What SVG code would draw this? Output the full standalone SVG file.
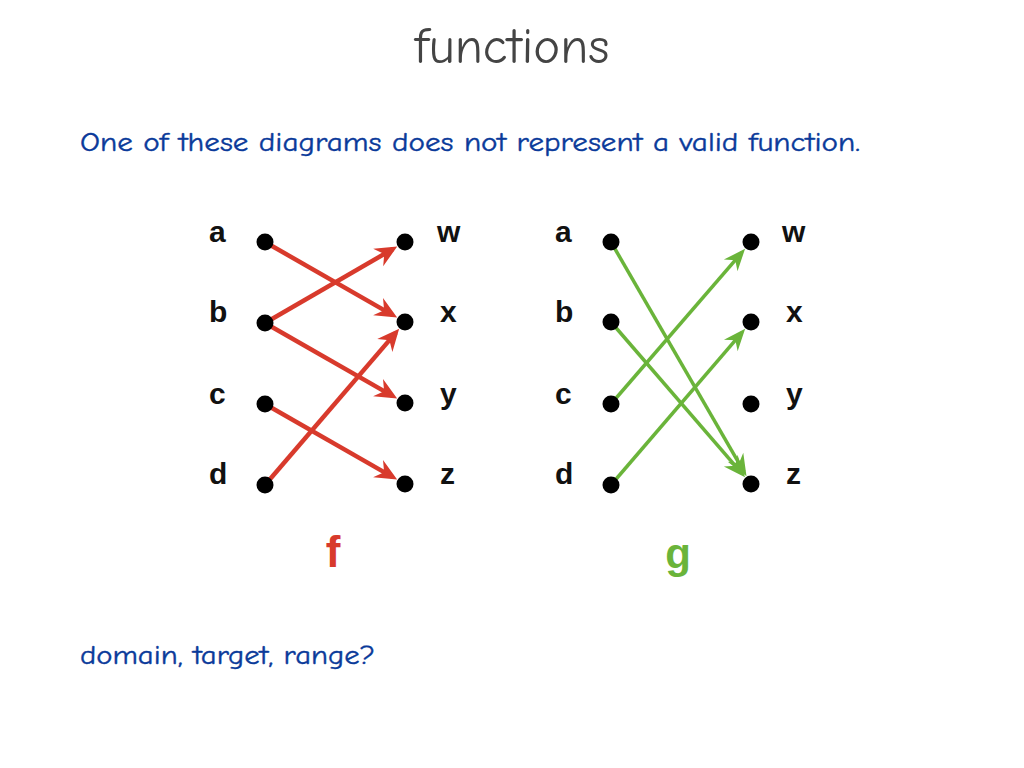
<svg xmlns="http://www.w3.org/2000/svg" width="1024" height="768" viewBox="0 0 1024 768">
<style>
.title{font-family:"Comic Sans MS","Comic Neue","Open Sans","Liberation Sans",sans-serif;font-size:50px;fill:#444444}
.body{font-family:"Comic Sans MS","Comic Neue","Open Sans","Liberation Sans",sans-serif;font-size:27px;fill:#0a3a9a;stroke:#0a3a9a;stroke-width:0.4}
.lbl{font-family:"Liberation Sans",Arial,sans-serif;font-weight:bold;font-size:30px;fill:#111111}
.dot{fill:#000000}
.red{stroke:#d83a2c;stroke-width:4.5;fill:none}
.green{stroke:#6ab43a;stroke-width:3.5;fill:none}
</style>
<defs>
<marker id="ahr" markerUnits="userSpaceOnUse" orient="auto" markerWidth="30" markerHeight="30" refX="0" refY="0" viewBox="-20 -10 30 20" overflow="visible">
<path d="M5,0 L-17,-10 L-10,0 L-17,10 Z" fill="#d83a2c"/>
</marker>
<marker id="ahg" markerUnits="userSpaceOnUse" orient="auto" markerWidth="30" markerHeight="30" refX="0" refY="0" viewBox="-20 -10 30 20" overflow="visible">
<path d="M5,0 L-17,-9 L-10,0 L-17,9 Z" fill="#6ab43a"/>
</marker>
</defs>
<rect width="1024" height="768" fill="#ffffff"/>
<text class="title" x="512" y="63" text-anchor="middle" textLength="195" lengthAdjust="spacingAndGlyphs">functions</text>
<text class="body" x="80" y="151" textLength="780" lengthAdjust="spacingAndGlyphs">One of these diagrams does not represent a valid function.</text>
<text class="body" x="80" y="664" textLength="295" lengthAdjust="spacingAndGlyphs">domain, target, range?</text>

<g id="connectors">
<line class="red" x1="265" y1="242" x2="392.8" y2="315.1" marker-end="url(#ahr)"/>
<line class="red" x1="265" y1="323" x2="392.9" y2="249" marker-end="url(#ahr)"/>
<line class="red" x1="265" y1="323" x2="392.8" y2="396.1" marker-end="url(#ahr)"/>
<line class="red" x1="265" y1="404" x2="392.8" y2="477.1" marker-end="url(#ahr)"/>
<line class="red" x1="265" y1="485" x2="395.9" y2="332.6" marker-end="url(#ahr)"/>
<line class="green" x1="611" y1="242" x2="744" y2="471.9" marker-end="url(#ahg)"/>
<line class="green" x1="611" y1="322" x2="741.8" y2="473.4" marker-end="url(#ahg)"/>
<line class="green" x1="611" y1="404" x2="741.8" y2="252.6" marker-end="url(#ahg)"/>
<line class="green" x1="611" y1="485" x2="741.9" y2="332.6" marker-end="url(#ahg)"/>
</g>

<g id="f-a"><circle class="dot" cx="265" cy="242" r="8.5"/><text class="lbl" x="209" y="242">a</text></g>
<g id="f-b"><circle class="dot" cx="265" cy="323" r="8.5"/><text class="lbl" x="209" y="322">b</text></g>
<g id="f-c"><circle class="dot" cx="265" cy="404" r="8.5"/><text class="lbl" x="209" y="404">c</text></g>
<g id="f-d"><circle class="dot" cx="265" cy="485" r="8.5"/><text class="lbl" x="209" y="484">d</text></g>
<g id="f-w"><circle class="dot" cx="405" cy="242" r="8.5"/><text class="lbl" x="437" y="242">w</text></g>
<g id="f-x"><circle class="dot" cx="405" cy="322" r="8.5"/><text class="lbl" x="440" y="322">x</text></g>
<g id="f-y"><circle class="dot" cx="405" cy="403" r="8.5"/><text class="lbl" x="440" y="404">y</text></g>
<g id="f-z"><circle class="dot" cx="405" cy="484" r="8.5"/><text class="lbl" x="440" y="484">z</text></g>
<g id="f-label"><text x="333" y="567" text-anchor="middle" style="font-family:'Liberation Sans',Arial,sans-serif;font-weight:bold;font-size:44px;fill:#d83a2c">f</text></g>

<g id="g-a"><circle class="dot" cx="611" cy="242" r="8.5"/><text class="lbl" x="555" y="242">a</text></g>
<g id="g-b"><circle class="dot" cx="611" cy="322" r="8.5"/><text class="lbl" x="555" y="322">b</text></g>
<g id="g-c"><circle class="dot" cx="611" cy="404" r="8.5"/><text class="lbl" x="555" y="404">c</text></g>
<g id="g-d"><circle class="dot" cx="611" cy="485" r="8.5"/><text class="lbl" x="555" y="484">d</text></g>
<g id="g-w"><circle class="dot" cx="751" cy="242" r="8.5"/><text class="lbl" x="782" y="242">w</text></g>
<g id="g-x"><circle class="dot" cx="751" cy="322" r="8.5"/><text class="lbl" x="786" y="322">x</text></g>
<g id="g-y"><circle class="dot" cx="751" cy="404" r="8.5"/><text class="lbl" x="786" y="404">y</text></g>
<g id="g-z"><circle class="dot" cx="751" cy="484" r="8.5"/><text class="lbl" x="786" y="484">z</text></g>
<g id="g-label"><text x="678" y="568" text-anchor="middle" style="font-family:'Liberation Sans',Arial,sans-serif;font-weight:bold;font-size:42px;fill:#6ab43a">g</text></g>
</svg>
